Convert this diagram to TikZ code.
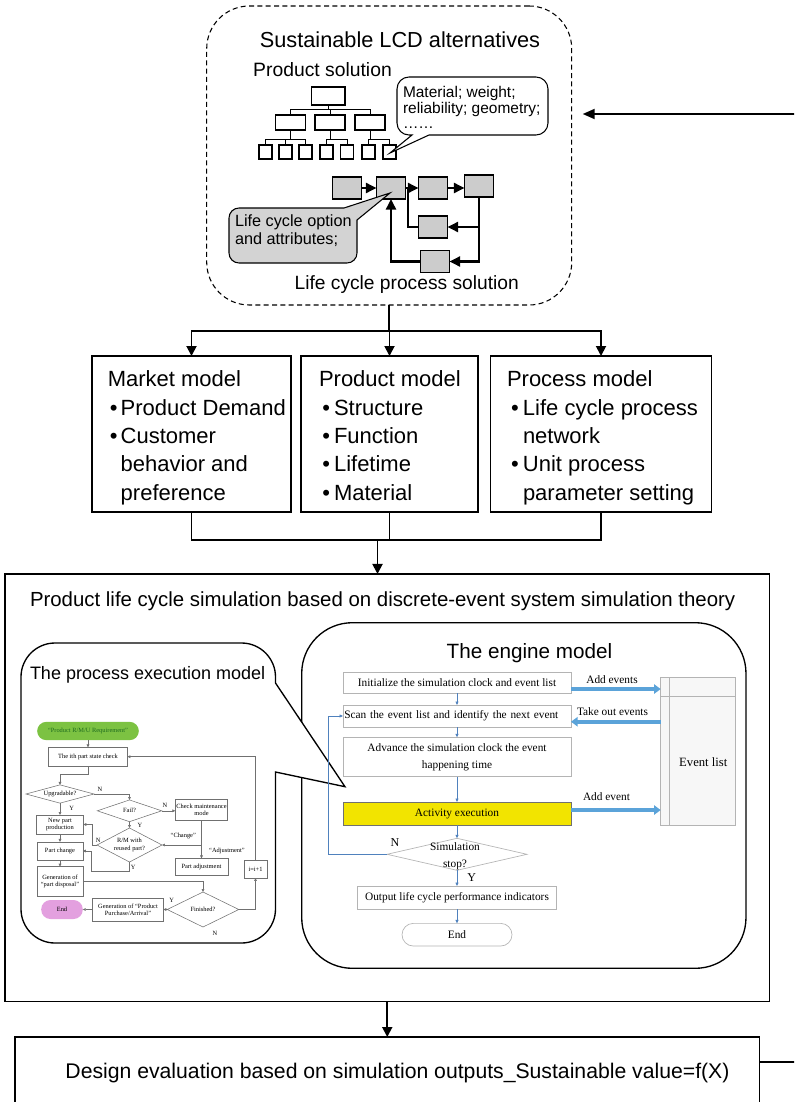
\documentclass[tikz,border=0pt]{standalone}
\usepackage{fontspec}
\setmainfont{Liberation Sans}
\newfontfamily\flowfont{Liberation Serif}
\usetikzlibrary{arrows.meta,shapes.geometric}
\definecolor{boxgrey}{HTML}{CCCCCC}
\definecolor{callgrey}{HTML}{D3D3D3}
\definecolor{startgreen}{HTML}{7CC242}
\definecolor{textgreen}{HTML}{1E6B1E}
\definecolor{endpink}{HTML}{E3A0DF}
\definecolor{actyellow}{HTML}{F2E400}
\definecolor{flowblue}{HTML}{4F81BD}
\definecolor{bigblue}{HTML}{5BA3D9}
\definecolor{enggrey}{HTML}{B4B4B4}
\definecolor{pegrey}{HTML}{707070}
\newcommand{\engfont}{\flowfont\fontsize{8.5}{12.7}\selectfont}
\newcommand{\pefont}{\flowfont\fontsize{4.8}{5.6}\selectfont}
\newcommand{\boxfont}{\fontsize{16.5}{21.2}\selectfont}
\newcommand{\bla}{\hspace*{1.5pt}\textbullet\hspace{2.4pt}}
\newcommand{\blb}{\hspace*{2.5pt}\textbullet\hspace{3pt}}
\newcommand{\blc}{\hspace*{3pt}\textbullet\hspace{3.2pt}}
\begin{document}
\begin{tikzpicture}[x=0.75pt,y=-0.75pt,
  every node/.style={inner sep=0pt,outer sep=0pt},
  treeline/.style={line width=0.75pt},
  tbox/.style={draw,line width=0.9pt,fill=white},
  gbox/.style={draw,line width=1pt,fill=boxgrey,minimum width=21.75pt,minimum height=16.5pt},
  netline/.style={line width=1.8pt},
  netarrow/.style={line width=1.8pt,-{Triangle[length=8pt,width=7.5pt]}},
  mbox/.style={draw,line width=1.1pt,minimum height=117pt},
  mainline/.style={line width=1.4pt},
  mainarrow/.style={line width=1.4pt,-{Triangle[length=7.5pt,width=7.5pt]}},
  ebox/.style={draw=enggrey,line width=0.5pt,fill=white,font=\engfont,align=center,minimum width=171pt},
  earrow/.style={draw=flowblue,line width=0.5pt,-{Triangle[length=2.6pt,width=2.2pt]}},
  bigarrow/.style={draw=bigblue,line width=2.8pt,-{Triangle[length=5pt,width=7pt]}},
  pebox/.style={draw=pegrey,line width=0.4pt,fill=white,font=\pefont,align=center},
  pediam/.style={draw=pegrey,line width=0.4pt,fill=white,diamond},
  pearrow/.style={draw=pegrey,line width=0.45pt,-{Triangle[length=2.2pt,width=2pt]}},
  pelabel/.style={font=\pefont}]
\useasboundingbox (0,0) rectangle (794,1102);
\clip (0,0) rectangle (794,1102);

% ---------- sustainable LCD alternatives ----------
\node[draw,line width=0.8pt,dash pattern=on 3.75pt off 2.5pt,rounded corners=32pt,
      minimum width=273.75pt,minimum height=224.25pt] (lcd) at (389.2,155.5) {};
\node[font=\fontsize{16.3}{19}\selectfont] (lcdT) at (400,40) {Sustainable LCD alternatives};
\node[font=\fontsize{14.5}{17}\selectfont] (psol) at (322.5,70) {Product solution};

% product structure tree
\node[tbox,minimum width=25pt,minimum height=13.5pt] (t0) at (328.3,96) {};
\node[tbox,minimum width=22.5pt,minimum height=11.25pt] (t1) at (290.5,122.5) {};
\node[tbox,minimum width=22.5pt,minimum height=11.25pt] (t2) at (330,122.5) {};
\node[tbox,minimum width=22.5pt,minimum height=11.25pt] (t3) at (370,122.5) {};
\foreach \n/\x in {l1/265.5,l2/285.5,l3/305.5,l4/326.5,l5/347,l6/368.5,l7/389.5}
  \node[tbox,minimum width=9.75pt,minimum height=10.5pt] (\n) at (\x,152) {};
\foreach \c in {t1,t2,t3} \draw[treeline] (t0.south) -- ++(0,5) -| (\c.north);
\foreach \c in {l1,l2,l3} \draw[treeline] (t1.south) -- ++(0,10) -| (\c.north);
\foreach \c in {l4,l5} \draw[treeline] (t2.south) -- ++(0,10) -| (\c.north);
\foreach \c in {l6,l7} \draw[treeline] (t3.south) -- ++(0,10) -| (\c.north);

% attribute callout
\draw[line width=0.8pt,fill=white] (412,135) -- (390,153) -- (429,135) -- (536,135)
  arc[start angle=90,end angle=0,radius=12] -- (548,89)
  arc[start angle=0,end angle=-90,radius=12] -- (409,77)
  arc[start angle=270,end angle=180,radius=12] -- (397,123)
  arc[start angle=180,end angle=90,radius=12] -- cycle;
\node[anchor=west,align=left,font=\fontsize{11.6}{11.7}\selectfont] (matT) at (403,107.7)
  {Material; weight;\\reliability; geometry;\\……};

% life cycle process network
\node[gbox] (b0) at (347,188) {};
\node[gbox] (b1) at (391,188) {};
\node[gbox] (b2) at (433,188) {};
\node[gbox] (b3) at (479,186) {};
\node[gbox] (b4) at (433,227) {};
\node[gbox] (b5) at (435,261.5) {};
\coordinate (merge) at (408,188);
\draw[netarrow] (b0) -- (b1);
\draw[netarrow] (b1) -- (b2);
\draw[netarrow] (b2.east) -- (b2.east -| b3.west);
\draw[netarrow] (b3.south) |- (b4.east);
\draw[netarrow] (b3.south) |- (b5.east);
\draw[netline] (b4.west) -| (merge);
\draw[netarrow] (b5.west) -| (b1.south);

% life cycle option callout
\draw[line width=0.8pt,fill=callgrey] (344,208) -- (390,193) -- (357,220) -- (357,253)
  arc[start angle=0,end angle=90,radius=10] -- (239,263)
  arc[start angle=90,end angle=180,radius=10] -- (229,218)
  arc[start angle=180,end angle=270,radius=10] -- cycle;
\node[anchor=west,align=left,font=\fontsize{12.2}{13.5}\selectfont] (lcoT) at (235,231)
  {Life cycle option\\and attributes;};
\node[font=\fontsize{14.4}{17}\selectfont] (lcps) at (406.7,285) {Life cycle process solution};

% ---------- the three models ----------
\node[mbox,minimum width=149.25pt] (mkt) at (191.5,434) {};
\node[mbox,minimum width=132.75pt] (prd) at (389.5,434) {};
\node[mbox,minimum width=165.75pt] (prc) at (601,434) {};
\node[anchor=north west,align=left,font=\boxfont] (mktT) at (107.8,371)
  {Market model\\\bla Product Demand\\\bla Customer\\\hspace*{9.7pt}behavior and\\\hspace*{9.7pt}preference};
\node[anchor=north west,align=left,font=\boxfont] (prdT) at (319,371)
  {Product model\\\blb Structure\\\blb Function\\\blb Lifetime\\\blb Material};
\node[anchor=north west,align=left,font=\boxfont] (prcT) at (507,371)
  {Process model\\\blc Life cycle process\\\hspace*{12pt}network\\\blc Unit process\\\hspace*{12pt}parameter setting};

\draw[mainline] (lcd.south) -- ++(0,26) coordinate (split);
\draw[mainarrow] (split) -| (mkt.north);
\draw[mainarrow] (split) -| (prd.north);
\draw[mainarrow] (split) -| (prc.north);
\draw[mainline] (mkt.south) -- ++(0,28) -| (prc.south);
\draw[mainline] (prd.south) -- ++(0,28);

% ---------- simulation ----------
\node[draw,line width=0.9pt,minimum width=573.4pt,minimum height=320.8pt] (sim) at (387.25,787.85) {};
\coordinate (join) at (377.5,540);
\draw[mainarrow] (join) -- (join |- sim.north);
\node[anchor=west,font=\fontsize{15.3}{18}\selectfont] (simT) at (30,601.7)
  {Product life cycle simulation based on discrete-event system simulation theory};

% engine model frame
\node[draw,line width=1pt,rounded corners=38pt,minimum width=333.2pt,minimum height=259.2pt] (engine) at (523.85,795.5) {};

% process execution model frame with its pointer
\draw[line width=1pt,fill=white] (275.5,683) -- (345,786.7) -- (275.5,772) -- (275.5,909)
  arc[start angle=0,end angle=90,radius=34] -- (55,943)
  arc[start angle=90,end angle=180,radius=34] -- (21,677)
  arc[start angle=180,end angle=270,radius=34] -- (241.5,643)
  arc[start angle=270,end angle=360,radius=34] -- cycle;
\node[anchor=west,font=\fontsize{13.5}{16}\selectfont] (peT) at (30,675) {The process execution model};

% engine model flowchart
\node[anchor=west,font=\fontsize{15.5}{18}\selectfont] (enT) at (446.7,653) {The engine model};
\node[ebox,minimum height=15.75pt] (init) at (457,682.5) {Initialize the simulation clock and event list};
\node[ebox,minimum height=16.5pt,text width=169pt,align=left] (scan) at (457,716) {Scan the event list and identify the next event};
\node[ebox,minimum height=29.5pt] (adv) at (457,757) {Advance the simulation clock the event\\happening time};
\node[ebox,fill=actyellow,draw=pegrey,minimum height=17.25pt] (act) at (457,813.5) {Activity execution};
\node[draw=enggrey,line width=0.5pt,fill=white,diamond,minimum width=105pt,minimum height=24pt] (stop) at (457,854.3) {};
\node[font=\engfont,align=center] (stopT) at (455,856.5) {Simulation\\stop?};
\node[ebox,minimum width=149.25pt,minimum height=17.5pt] (out) at (457,897.7) {Output life cycle performance indicators};
\node[ebox,minimum width=82.5pt,minimum height=17pt,rounded corners=8.5pt] (eend) at (457,934.7) {End};
\node[draw=enggrey,line width=0.5pt,fill=black!3,minimum width=56.25pt,minimum height=111pt] (elist) at (698.2,751) {};
\draw[draw=enggrey,line width=0.5pt] ([xshift=6.45pt]elist.north west) -- ([xshift=6.45pt]elist.south west);
\draw[draw=enggrey,line width=0.5pt] ([yshift=-14.25pt]elist.north west) -- ([yshift=-14.25pt]elist.north east);
\node[font=\flowfont\fontsize{9.5}{11}\selectfont] (elistT) at (703.3,761.7) {Event list};

\draw[earrow] (init) -- (scan);
\draw[earrow] (scan) -- (adv);
\draw[earrow] (adv) -- (act);
\draw[earrow] (act) -- (stop);
\draw[earrow] (stop) -- (out);
\draw[earrow] (out) -- (eend);
\draw[earrow] (stop.west) -- ++(-59,0) |- (scan.west);
\node[font=\flowfont\fontsize{9}{10}\selectfont] (nlab) at (395,843) {N};
\node[font=\flowfont\fontsize{9}{10}\selectfont] (ylab) at (471.7,878) {Y};

\draw[bigarrow] ([yshift=-4.9pt]init.east) -- ([yshift=-4.9pt]init.east -| elist.west);
\draw[bigarrow] ([yshift=-4.3pt]scan.east -| elist.west) -- ([yshift=-4.3pt]scan.east);
\draw[bigarrow] ([yshift=2.6pt]act.east) -- ([yshift=2.6pt]act.east -| elist.west);
\node[font=\engfont] (lab1) at (612,680) {Add events};
\node[font=\engfont] (lab2) at (612.5,711.7) {Take out events};
\node[font=\engfont] (lab3) at (606.5,797) {Add event};

% process execution flowchart
\node[fill=startgreen,rounded corners=6.8pt,minimum width=76.2pt,minimum height=13.7pt,
      font=\pefont,text=textgreen] (pstart) at (88,731) {“Product R/M/U Requirement”};
\node[pebox,minimum width=59.25pt,minimum height=14pt] (check) at (88,756.7) {The ith part state check};
\node[pediam,minimum width=51pt,minimum height=13.7pt] (upg) at (60,794) {};
\node[pelabel] (upgT) at (60,794) {Upgradable?};
\node[pediam,minimum width=48.3pt,minimum height=16.3pt] (fail) at (129.5,810.8) {};
\node[pelabel] (failT) at (129.5,810.8) {Fail?};
\node[pebox,minimum width=39.2pt,minimum height=15.5pt] (cmm) at (201.5,809.7) {Check maintenance\\mode};
\node[pebox,minimum width=35pt,minimum height=14.25pt] (newp) at (60,824.5) {New part\\production};
\node[pediam,minimum width=48.75pt,minimum height=25.5pt] (rm) at (129.5,845) {};
\node[pelabel,align=center] (rmT) at (129.5,845) {R/M with\\reused part?};
\node[pebox,minimum width=34.3pt,minimum height=13.7pt] (pchg) at (60,851) {Part change};
\node[pebox,minimum width=34.3pt,minimum height=22pt] (gen) at (60,881.3) {Generation of\\“part disposal”};
\node[pebox,minimum width=40pt,minimum height=12.5pt] (padj) at (201.5,866.7) {Part adjustment};
\node[pebox,minimum width=17.25pt,minimum height=13.5pt] (inc) at (255.5,869) {i=i+1};
\node[pediam,minimum width=53.7pt,minimum height=26.25pt] (fin) at (203,909.5) {};
\node[pelabel] (finT) at (203,909.5) {Finished?};
\node[pebox,minimum width=53pt,minimum height=17.25pt] (genp) at (128,909.5) {Generation of “Product\\Purchase/Arrival”};
\node[fill=endpink,rounded corners=7pt,minimum width=31.2pt,minimum height=14.25pt,font=\pefont] (pend) at (62,909.5) {End};

\draw[pearrow] (pstart) -- (check);
\draw[pearrow] (check.south) -- ++(0,8.3) -| (upg.north);
\draw[pearrow] (upg.east) -| (fail.north);
\draw[pearrow] (fail.east) -- (fail.east -| cmm.west);
\draw[pearrow] (upg.south) -- (newp.north);
\draw[pearrow] (fail.south) -- (rm.north);
\draw[pearrow] (rm.west) -- ++(-5,0) |- (newp.east);
\draw[pearrow] (cmm.south) |- (rm.east);
\draw[pearrow] (cmm.south) -- (padj.north);
\draw[pearrow] (newp) -- (pchg);
\draw[pearrow] (rm.south) -- ++(0,9.7) -| ([xshift=6.6pt]pchg.east) -- (pchg.east);
\draw[pearrow] (pchg) -- (gen);
\draw[pearrow] (gen.east) -| (fin.north);
\draw[pearrow] (fin.west) -- (genp.east);
\draw[pearrow] (genp) -- (pend);
\draw[pearrow] (fin.east) -| (inc.south);
\draw[pearrow] (inc.north) |- (check.east);
\node[pelabel] (pl1) at (100,789) {N};
\node[pelabel] (pl2) at (165,805) {N};
\node[pelabel] (pl3) at (71.7,808.3) {Y};
\node[pelabel] (pl4) at (140,825.5) {Y};
\node[pelabel] (pl5) at (98.3,840) {N};
\node[pelabel] (pl6) at (183.3,835.5) {“Change”};
\node[pelabel] (pl7) at (227,850.5) {“Adjustment”};
\node[pelabel] (pl8) at (133.3,867) {Y};
\node[pelabel] (pl9) at (171.7,900) {Y};
\node[pelabel] (pl10) at (215,933) {N};

% ---------- design evaluation ----------
\node[draw,line width=0.9pt,minimum width=558.4pt,minimum height=60pt] (design) at (387.25,1077) {};
\node[font=\fontsize{15.9}{19}\selectfont] (designT) at (397.5,1073)
  {Design evaluation based on simulation outputs\_Sustainable value=f(X)};
\draw[mainarrow] (sim.south) -- (design.north);
\coordinate (fbout) at (800,1061.7);
\draw[mainline] (fbout -| design.east) -- (fbout);
\coordinate (fbin) at (800,114);
\draw[line width=1.4pt,-{Triangle[length=9pt,width=7.5pt]},shorten >=8.25pt] (fbin) -- (fbin -| lcd.east);
\end{tikzpicture}
\end{document}
